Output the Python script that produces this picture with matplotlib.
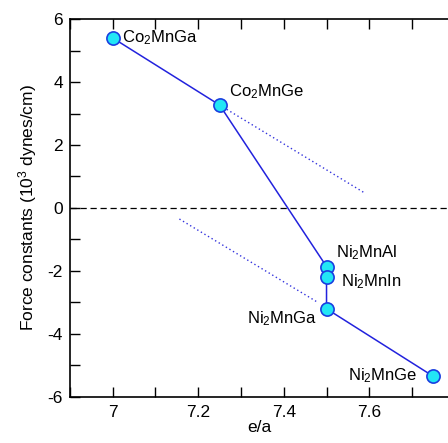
import matplotlib.pyplot as plt
from matplotlib.ticker import MultipleLocator, FuncFormatter

# e/a vs force constants for Heusler alloys
names = ['Co$_2$MnGa', 'Co$_2$MnGe', 'Ni$_2$MnAl', 'Ni$_2$MnIn', 'Ni$_2$MnGa', 'Ni$_2$MnGe']
ea = [7.0, 7.25, 7.5, 7.5, 7.5, 7.75]
force = [5.4, 3.27, -1.86, -2.2, -3.2, -5.35]

# dotted guide lines
guide1_x = [7.25, 7.59]
guide1_y = [3.27, 0.47]
guide2_x = [7.156, 7.48]
guide2_y = [-0.35, -3.0]

plt.rcParams['font.family'] = ['Liberation Sans', 'DejaVu Sans']
plt.rcParams['mathtext.fontset'] = 'custom'
plt.rcParams['mathtext.rm'] = 'Liberation Sans'
plt.rcParams['mathtext.it'] = 'Liberation Sans:italic'
plt.rcParams['mathtext.bf'] = 'Liberation Sans:bold'

fig = plt.figure(figsize=(4.48, 4.43), dpi=100)
ax = fig.add_axes([0.156, 0.104, 0.844, 0.853])

ax.axhline(0, color='black', linestyle=(0, (5, 3)), linewidth=0.9)
ax.plot(guide1_x, guide1_y, color='#3333dd', linestyle=(0, (1, 2)), linewidth=1.0)
ax.plot(guide2_x, guide2_y, color='#3333dd', linestyle=(0, (1, 2)), linewidth=1.0)
ax.plot(ea, force, color='#2222dd', linewidth=1.1, marker='o', markersize=9.5,
        markerfacecolor='#22e6f5', markeredgecolor='#1a3fe0', markeredgewidth=1.2, zorder=3)

fs = 12
ax.text(7.023, 5.42, names[0], fontsize=fs, va='center', ha='left')
ax.text(7.272, 3.7, names[1], fontsize=fs, va='center', ha='left')
ax.text(7.521, -1.43, names[2], fontsize=fs, va='center', ha='left')
ax.text(7.535, -2.35, names[3], fontsize=fs, va='center', ha='left')
ax.text(7.477, -3.5, names[4], fontsize=fs, va='center', ha='right')
ax.text(7.712, -5.33, names[5], fontsize=fs, va='center', ha='right')

ax.set_xlim(6.9, 7.784)
ax.set_ylim(-6, 6)
ax.xaxis.set_major_locator(MultipleLocator(0.1))
ax.xaxis.set_major_formatter(FuncFormatter(
    lambda v, p: ('%g' % round(v, 1)) if round(v * 10) % 2 == 0 else ''))
ax.yaxis.set_major_locator(MultipleLocator(1))
ax.yaxis.set_major_formatter(FuncFormatter(
    lambda v, p: ('%d' % round(v)) if round(v) % 2 == 0 else ''))
ax.tick_params(direction='in', length=7, width=1, labelsize=12.5, top=True, right=False)
ax.tick_params(axis='x', pad=6)
ax.tick_params(axis='y', pad=5)
ax.spines['right'].set_visible(False)
for s in ['left', 'bottom', 'top']:
    ax.spines[s].set_linewidth(1.2)

ax.set_xlabel('e/a', fontsize=12.5, labelpad=0)
ax.set_ylabel('Force constants (10$^3$ dynes/cm)', fontsize=12.5, labelpad=6)

plt.savefig('out.png', dpi=100)
